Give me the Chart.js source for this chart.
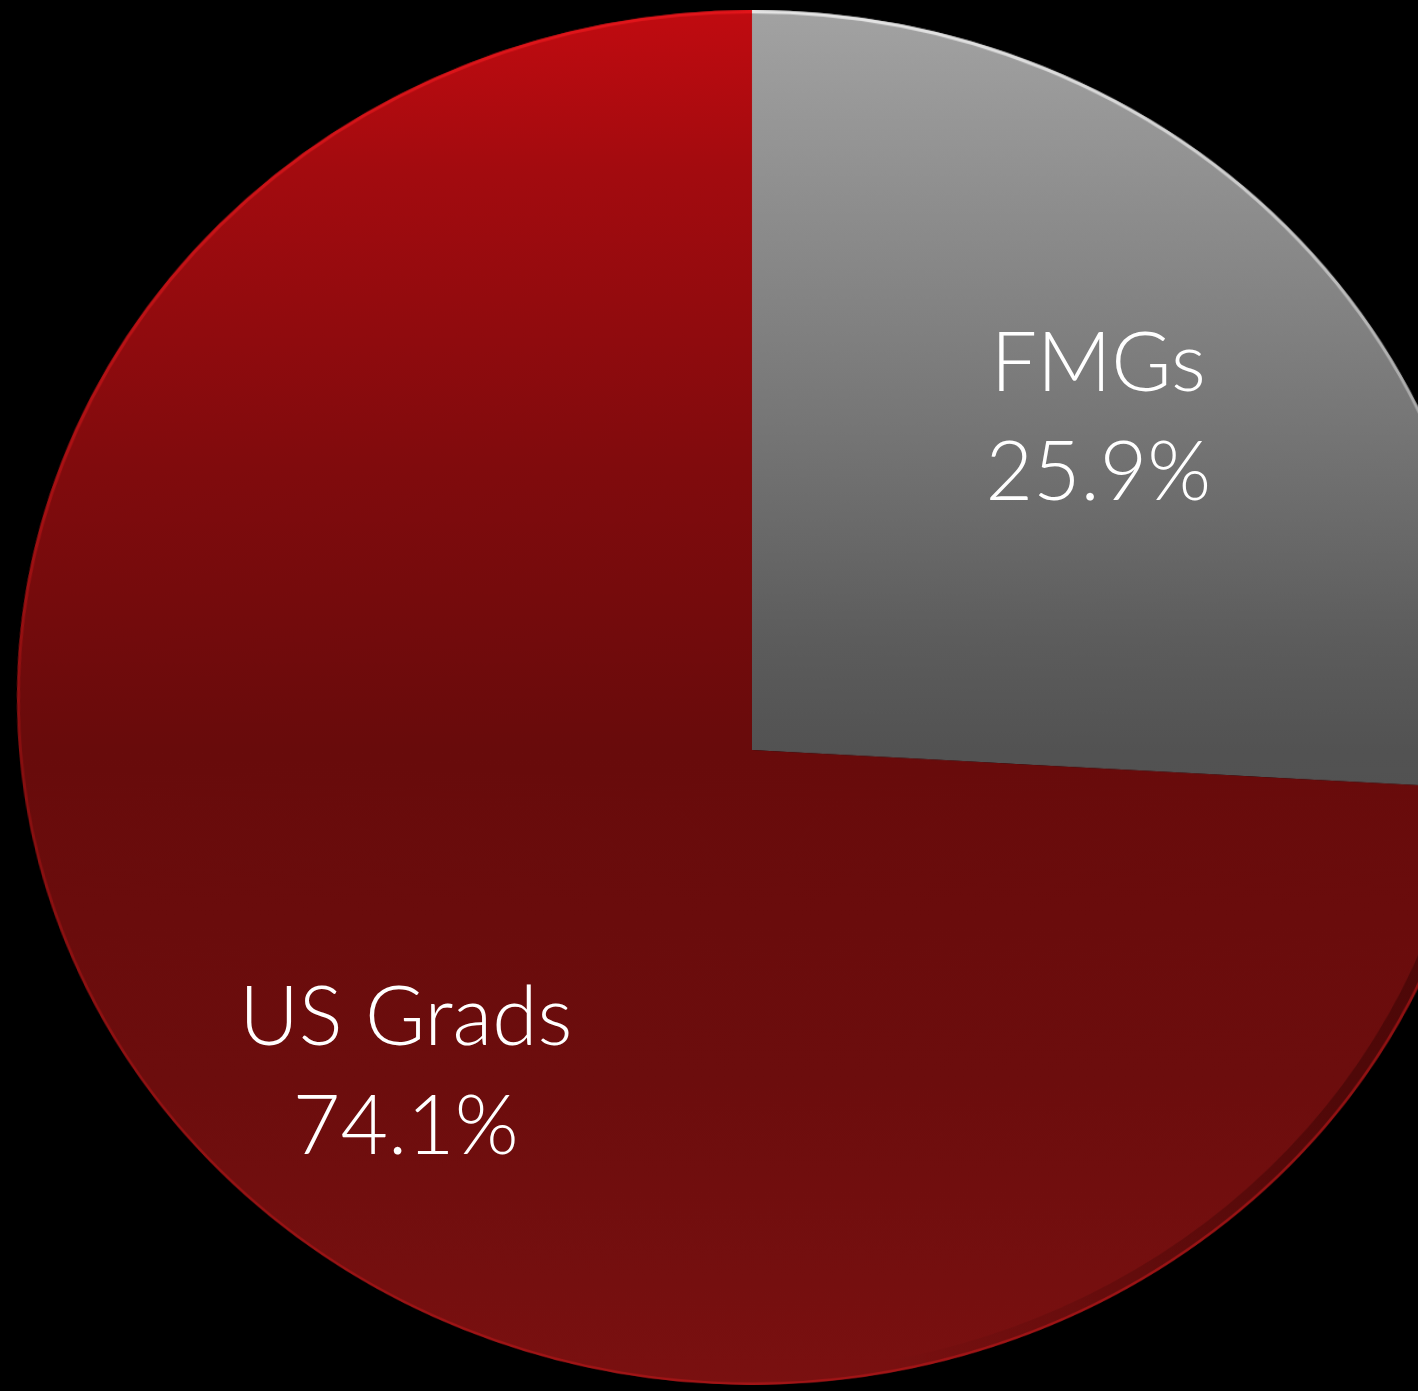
<!DOCTYPE html>
<html>
<head>
<meta charset="utf-8">
<script src="https://cdn.jsdelivr.net/npm/chart.js@4/dist/chart.umd.min.js"></script>
<style>
  html, body { margin: 0; padding: 0; background: #000; overflow: hidden; }
  #stage { position: relative; width: 1418px; height: 1391px; overflow: hidden; background: #000; }
  #wrap {
    position: absolute; left: 19px; top: 17px; width: 1466px; height: 1466px;
    transform-origin: 733px 733px;
    transform: perspective(3470px) rotateX(-21.2deg);
  }
  canvas { display: block; }
  .lbl {
    position: absolute; color: #fff; text-align: center; white-space: nowrap;
    font-family: Lato, "Open Sans", sans-serif; font-weight: 300; font-size: 82px;
    line-height: 109px; transform: translate(-50%, calc(-50% - 9px));
  }
</style>
</head>
<body>
<div id="stage">
  <div id="wrap"><canvas id="c" width="1466" height="1466"></canvas></div>
</div>
<script>
const categories = ['FMGs', 'US Grads'];
const shares = [25.9, 74.1];
const labelLines = categories.map((c, i) => [c, shares[i].toFixed(1) + '%']);

function sliceFill(ctx) {
  const chart = ctx.chart;
  const area = chart.chartArea;
  if (!area) return '#700d0d';
  const g = chart.ctx.createLinearGradient(0, area.top, 0, area.bottom);
  if (ctx.dataIndex === 0) {
    g.addColorStop(0, '#a2a2a2');
    g.addColorStop(0.12, '#8e8e8e');
    g.addColorStop(0.28, '#747474');
    g.addColorStop(0.42, '#5c5c5c');
    g.addColorStop(0.5, '#525252');
    g.addColorStop(1, '#4a4a4a');
  } else {
    g.addColorStop(0, '#c00b10');
    g.addColorStop(0.1, '#a30b0f');
    g.addColorStop(0.3, '#800b0d');
    g.addColorStop(0.5, '#680b0b');
    g.addColorStop(0.75, '#6c0d0d');
    g.addColorStop(1, '#7a1010');
  }
  return g;
}

const rimPlugin = {
  id: 'rim',
  afterDatasetsDraw(chart) {
    const ctx = chart.ctx;
    const meta = chart.getDatasetMeta(0);
    const area = chart.chartArea;
    ctx.save();
    meta.data.forEach((arc, i) => {
      const p = arc.getProps(['x', 'y', 'startAngle', 'endAngle', 'outerRadius'], true);
      const g = ctx.createLinearGradient(0, area.top, 0, area.bottom);
      if (i === 0) {
        g.addColorStop(0, 'rgba(235,235,235,0.9)');
        g.addColorStop(0.5, 'rgba(180,180,180,0.25)');
        g.addColorStop(1, 'rgba(180,180,180,0.2)');
      } else {
        g.addColorStop(0, 'rgba(240,25,30,0.7)');
        g.addColorStop(0.5, 'rgba(190,20,22,0.35)');
        g.addColorStop(1, 'rgba(200,25,28,0.5)');
      }
      ctx.beginPath();
      ctx.arc(p.x, p.y, p.outerRadius - 1.5, p.startAngle, p.endAngle);
      ctx.lineWidth = 3;
      ctx.strokeStyle = g;
      ctx.stroke();
      if (i === 1) {
        const s = Math.max(p.startAngle, 0.1);
        const fade = ctx.createLinearGradient(p.x + p.outerRadius * 0.2, 0, p.x + p.outerRadius * 0.85, 0);
        fade.addColorStop(0, 'rgba(35,0,0,0)');
        fade.addColorStop(1, 'rgba(35,0,0,0.4)');
        ctx.beginPath();
        ctx.arc(p.x, p.y, p.outerRadius - 9, s, Math.PI * 0.45);
        ctx.lineWidth = 12;
        ctx.strokeStyle = fade;
        ctx.stroke();
      }
    });
    ctx.restore();
  }
};

const labelPlugin = {
  id: 'sliceLabels',
  afterDraw(chart) {
    const meta = chart.getDatasetMeta(0);
    const wrap = document.getElementById('wrap');
    const stage = document.getElementById('stage');
    const ox = wrap.offsetLeft, oy = wrap.offsetTop;
    stage.querySelectorAll('.lbl').forEach(e => e.remove());
    meta.data.forEach((arc, i) => {
      const p = arc.getProps(['x', 'y', 'startAngle', 'endAngle', 'outerRadius'], true);
      const mid = (p.startAngle + p.endAngle) / 2;
      const r = p.outerRadius * 0.65;
      const div = document.createElement('div');
      div.className = 'lbl';
      div.style.left = (ox + p.x + Math.cos(mid) * r) + 'px';
      div.style.top = (oy + p.y + Math.sin(mid) * r) + 'px';
      div.innerHTML = labelLines[i].join('<br>');
      stage.appendChild(div);
    });
  }
};

new Chart(document.getElementById('c'), {
  type: 'pie',
  data: {
    labels: categories,
    datasets: [{
      data: shares,
      backgroundColor: sliceFill,
      borderWidth: 0
    }]
  },
  options: {
    responsive: false,
    animation: false,
    layout: { padding: 0 },
    plugins: { legend: { display: false }, tooltip: { enabled: false } }
  },
  plugins: [rimPlugin, labelPlugin]
});
</script>
</body>
</html>
